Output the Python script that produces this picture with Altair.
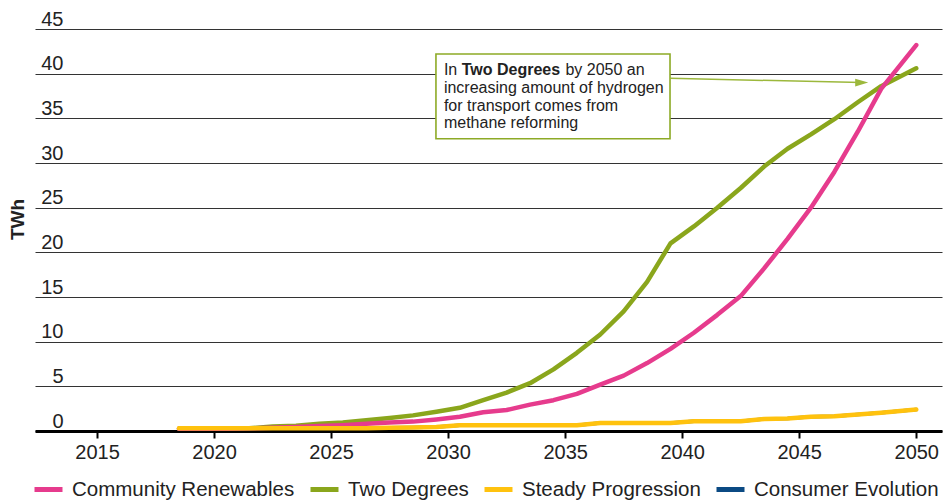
import altair as alt
import pandas as pd

years = [2018.5, 2019.5, 2020.5, 2021.5, 2022.5, 2023.5, 2024.5, 2025.5,
         2026.5, 2027.5, 2028.5, 2029.5, 2030.5, 2031.5, 2032.5, 2033.5,
         2034.5, 2035.5, 2036.5, 2037.5, 2038.5, 2039.5, 2040.5, 2041.5,
         2042.5, 2043.5, 2044.5, 2045.5, 2046.5, 2047.5, 2048.5, 2050.0]

community_renewables = [0.25, 0.25, 0.25, 0.3, 0.35, 0.45, 0.55, 0.65,
                        0.8, 0.95, 1.05, 1.3, 1.6, 2.1, 2.35, 2.95,
                        3.45, 4.15, 5.2, 6.2, 7.6, 9.2, 11.0, 13.0,
                        15.1, 18.2, 21.5, 25.0, 29.0, 33.5, 38.3, 43.2]

two_degrees = [0.25, 0.25, 0.25, 0.3, 0.5, 0.6, 0.8, 0.95,
               1.2, 1.45, 1.75, 2.15, 2.6, 3.45, 4.3, 5.35,
               6.9, 8.75, 10.8, 13.4, 16.7, 21.0, 22.9, 25.0,
               27.2, 29.6, 31.6, 33.2, 34.9, 36.8, 38.6, 40.6]

steady_progression = [0.3, 0.3, 0.3, 0.3, 0.3, 0.3, 0.3, 0.3,
                      0.3, 0.35, 0.4, 0.45, 0.65, 0.65, 0.65, 0.65,
                      0.65, 0.65, 0.9, 0.9, 0.9, 0.9, 1.1, 1.1,
                      1.1, 1.35, 1.4, 1.6, 1.65, 1.85, 2.05, 2.4]

# Not visible in the picture: lies underneath Steady Progression
consumer_evolution = list(steady_progression)

series_names = ["Community Renewables", "Two Degrees", "Steady Progression", "Consumer Evolution"]
series_colors = ["#E63B8D", "#8AA61C", "#FFC20E", "#0B4A83"]
series_values = [community_renewables, two_degrees, steady_progression, consumer_evolution]

x_ticks = [2015, 2020, 2025, 2030, 2035, 2040, 2045, 2050]
y_ticks = [0, 5, 10, 15, 20, 25, 30, 35, 40, 45]

# annotation (data coordinates)
box = {"x0": 2029.48, "x1": 2039.48, "y0": 32.72, "y1": 42.2}
note_x = 2029.82
note_line1_y = 39.85
note_rest_y = 37.84
note_rest = ["increasing amount of hydrogen", "for transport comes from", "methane reforming"]
arrow = {"x0": 2039.48, "y0": 39.48, "x1": 2047.67, "y1": 39.0}

rows = []
for name, vals in zip(series_names, series_values):
    for yr, v in zip(years, vals):
        rows.append({"year": yr, "value": v, "scenario": name})
df = pd.DataFrame(rows)

FONT = "Liberation Sans"
xscale = alt.Scale(domain=[2012.35, 2051.1], nice=False, zero=False)
yscale = alt.Scale(domain=[0, 45], nice=False)
color = alt.Color("scenario:N",
                  scale=alt.Scale(domain=series_names, range=series_colors),
                  legend=alt.Legend(title=None, orient="none", direction="horizontal",
                                    legendX=-3, legendY=444, symbolType="stroke",
                                    symbolStrokeWidth=5, symbolSize=784,
                                    labelFontSize=20.5, labelFont=FONT, labelColor="#222",
                                    labelOffset=7, columnPadding=5, padding=0,
                                    labelLimit=400))

x_axis = alt.Axis(values=x_ticks, format="d", title=None, grid=False,
                  domainColor="black", domainWidth=3, tickColor="black",
                  tickWidth=2, tickSize=7, labelFontSize=20, labelFont=FONT,
                  labelColor="#222", labelPadding=4, labelFlush=False)
y_axis = alt.Axis(values=y_ticks, title="TWh", grid=True, gridColor="#333",
                  gridWidth=1, ticks=False, tickSize=0, domain=False,
                  labelAlign="right", labelBaseline="alphabetic", labelOffset=-4,
                  labelPadding=-28, labelFontSize=20, labelFont=FONT, labelColor="#222",
                  titleFont=FONT, titleFontSize=19, titleFontWeight="bold",
                  titleColor="#222", titleAngle=270, titleX=-18, titleY=190,
                  titleAlign="center", titleBaseline="middle")

base = alt.Chart(df)
layers = []
draw_order = ["Consumer Evolution", "Two Degrees", "Community Renewables", "Steady Progression"]
for name in draw_order:
    sw = 3.5 if name == "Consumer Evolution" else 4.5
    layers.append(base.transform_filter(alt.datum.scenario == name)
                  .mark_line(strokeWidth=sw, strokeCap="round", strokeJoin="round")
                  .encode(x=alt.X("year:Q", scale=xscale, axis=x_axis),
                          y=alt.Y("value:Q", scale=yscale, axis=y_axis),
                          color=color))

box_df = pd.DataFrame([box])
box_layer = alt.Chart(box_df).mark_rect(fill="white", stroke="#8DAA26", strokeWidth=1.6).encode(
    x=alt.X("x0:Q", scale=xscale, axis=x_axis), x2="x1:Q",
    y=alt.Y("y0:Q", scale=yscale, axis=y_axis), y2="y1:Q")

arrow_df = pd.DataFrame([arrow])
arrow_line = alt.Chart(arrow_df).mark_rule(color="#9CB83C", strokeWidth=1.5).encode(
    x=alt.X("x0:Q", scale=xscale, axis=x_axis), x2="x1:Q",
    y=alt.Y("y0:Q", scale=yscale, axis=y_axis), y2="y1:Q")
arrow_head = alt.Chart(arrow_df).mark_point(
    shape="M-1,-0.6L1,0L-1,0.6Z", filled=True, color="#9CB83C", size=169, opacity=1
).encode(x=alt.X("x1:Q", scale=xscale, axis=x_axis),
         y=alt.Y("y1:Q", scale=yscale, axis=y_axis))

l1_df = pd.DataFrame({"x": [note_x], "y": [note_line1_y]})
xe = alt.X("x:Q", scale=xscale, axis=x_axis)
ye = alt.Y("y:Q", scale=yscale, axis=y_axis)
t_in = alt.Chart(l1_df).mark_text(text="In", align="left", baseline="alphabetic",
                                  font=FONT, fontSize=16, color="#222").encode(x=xe, y=ye)
t_bold = alt.Chart(l1_df).mark_text(text="Two Degrees", align="left", baseline="alphabetic",
                                    font=FONT, fontSize=16, fontWeight="bold", color="#222",
                                    dx=17.8).encode(x=xe, y=ye)
t_rest1 = alt.Chart(l1_df).mark_text(text="by 2050 an", align="left", baseline="alphabetic",
                                     font=FONT, fontSize=16, color="#222",
                                     dx=121.5).encode(x=xe, y=ye)
rest_df = pd.DataFrame({"x": [note_x], "y": [note_rest_y], "t": ["\n".join(note_rest)]})
t_rest = alt.Chart(rest_df).mark_text(align="left", baseline="alphabetic", font=FONT,
                                      fontSize=16, color="#222", lineBreak="\n",
                                      lineHeight=17.7).encode(x=xe, y=ye, text="t:N")

chart = alt.layer(*layers, box_layer, arrow_line, arrow_head, t_in, t_bold, t_rest1, t_rest).properties(
    width=907, height=402,
    autosize=alt.AutoSizeParams(type="none"),
    padding={"left": 27, "top": 21, "right": 1, "bottom": 74},
).configure_view(stroke=None)

chart.save("out.html", embed_options={"renderer": "svg", "actions": False})
